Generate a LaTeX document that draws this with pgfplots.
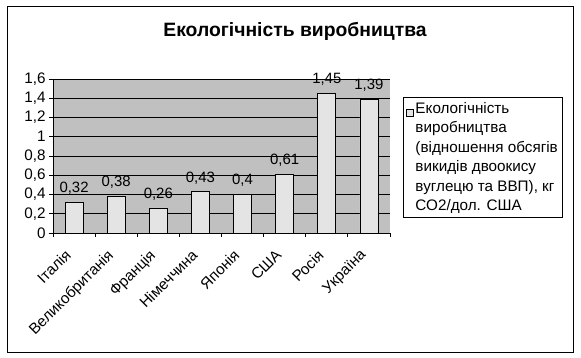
\documentclass[border=0pt]{standalone}
\usepackage{pgfplots}
\pgfplotsset{compat=1.18}
\usepackage{fontspec}
\setmainfont{Liberation Sans}
\definecolor{plotbg}{RGB}{192,192,192}
\definecolor{barfill}{RGB}{228,228,228}
\begin{document}
\begin{tikzpicture}
\path (0bp,0bp) rectangle (581bp,358bp);
\draw[black, line width=0.9bp] (7bp,6bp) rectangle (573bp,352bp);
\node[font=\fontsize{19.4}{22}\selectfont\bfseries] at (295bp,327bp) {Екологічність виробництва};
\begin{axis}[
  at={(53bp,125bp)}, anchor=south west, scale only axis,
  width=337bp, height=154bp,
  ymin=0, ymax=1.6,
  ytick={0,0.2,0.4,0.6,0.8,1,1.2,1.4,1.6},
  yticklabels={0,{0,2},{0,4},{0,6},{0,8},1,{1,2},{1,4},{1,6}},
  xmin=-0.5, xmax=7.5,
  xtick={-0.5,0.5,1.5,2.5,3.5,4.5,5.5,6.5,7.5},
  x tick label as interval,
  xticklabels={Італія,Великобританія,Франція,Німеччина,Японія,США,Росія,Україна},
  xticklabel style={rotate=45, anchor=north east, inner sep=1bp, xshift=-14bp},
  /pgf/number format/assume math mode=true,
  tick label style={font=\fontsize{15.3}{17}\selectfont},
  axis x line*=bottom, axis y line*=left,
  axis line style={-, black, line width=0.8bp},
  tick align=outside, major tick length=4bp,
  tick style={black, line width=0.8bp},
  axis background/.style={fill=plotbg},
  ymajorgrids, major grid style={black, line width=0.7bp},
  ybar, bar width=18bp,
  nodes near coords,
  nodes near coords style={font=\fontsize{15}{17}\selectfont, yshift=4bp, /pgf/number format/.cd, use comma, fixed, precision=2},
  legend style={at={(1.0386,0.883)}, anchor=north west, draw=black, line width=0.8bp, fill=white,
    font=\fontsize{15.3}{19.5}\selectfont, inner sep=3bp},
  legend cell align=left,
  legend image code/.code={\draw[fill=barfill, draw=black, line width=0.6bp] (5bp,41.25bp) rectangle (11.5bp,47.75bp);},
]
\addplot[fill=barfill, draw=black, line width=0.7bp] coordinates {
(0,0.32) (1,0.38) (2,0.26) (3,0.43) (4,0.4) (5,0.61) (6,1.45) (7,1.39)};
\addlegendentry[align=left]{Екологічність\\виробництва\\(відношення обсягів\\викидів двоокису\\вуглецю та ВВП), кг\\СО2/дол. США}
\end{axis}
\end{tikzpicture}
\end{document}
